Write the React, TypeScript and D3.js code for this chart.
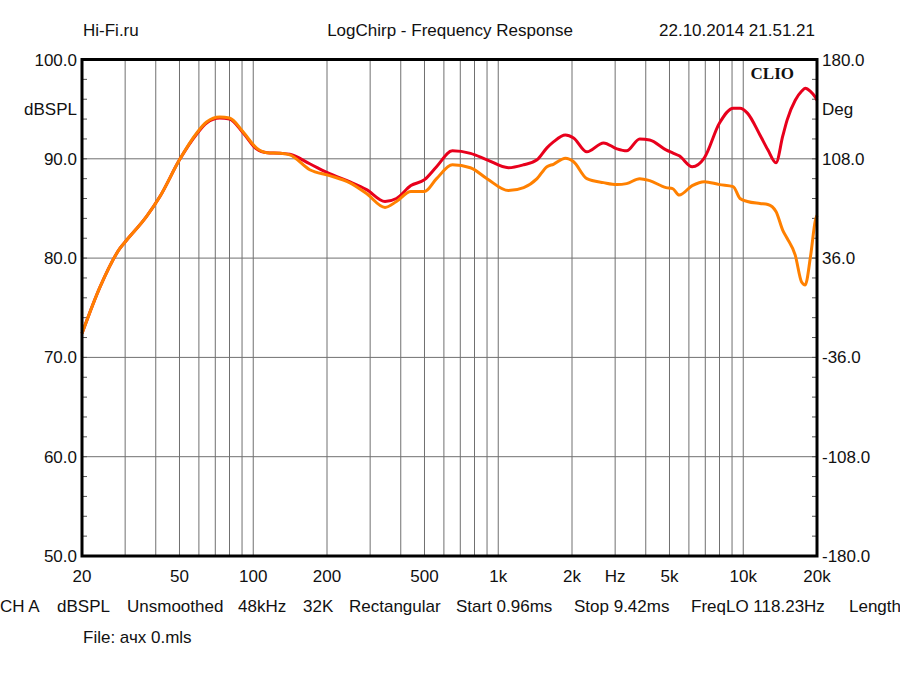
import React from 'react';
import * as d3 from 'd3';

// sampled frequency points (Hz), shared by both traces
const freqs = [
  20, 23.7, 28.6, 30.4, 36.7, 41.6, 50, 58.8, 64.5, 73, 80, 91, 103, 114, 129, 141,
  170, 205, 247, 290, 345, 384, 440, 500, 560, 650, 770, 900, 1100, 1270, 1440, 1580,
  1680, 1880, 2030, 2300, 2690, 3050, 3340, 3780, 4150, 4840, 5150, 5480, 6190, 6940,
  8000, 9100, 9700, 10400, 11700, 12600, 13600, 14500, 15100, 16300, 17300, 17900,
  18800, 19700, 20000,
];

const splRed = [
  72.4, 77.1, 81.0, 81.8, 84.2, 86.2, 89.9, 92.5, 93.6, 94.1, 94.0, 92.6, 91.0, 90.6, 90.55, 90.45,
  89.5, 88.5, 87.7, 86.9, 85.7, 86.0, 87.3, 87.9, 89.2, 90.8, 90.55, 89.9, 89.1, 89.4, 89.9, 91.1,
  91.7, 92.4, 92.1, 90.7, 91.6, 91.0, 90.8, 92.0, 91.9, 90.9, 90.6, 90.3, 89.2, 90.1,
  93.6, 95.1, 95.1, 94.6, 92.4, 90.9, 89.6, 92.3, 93.9, 95.9, 96.8, 97.1,
  96.8, 96.2, 95.9,
];

const splOrange = [
  72.4, 77.1, 81.0, 81.8, 84.2, 86.2, 89.9, 92.6, 93.7, 94.2, 94.1, 92.7, 91.1, 90.6, 90.55, 90.4,
  88.9, 88.3, 87.6, 86.5, 85.1, 85.7, 86.7, 86.7, 88.0, 89.4, 89.1, 88.0, 86.8, 87.1, 88.0, 89.2,
  89.45, 90.05, 89.7, 88.0, 87.6, 87.4, 87.5, 88.0, 87.8, 87.1, 87.0, 86.35, 87.3, 87.7,
  87.4, 87.2, 86.0, 85.7, 85.5, 85.4, 84.7, 82.8, 82.0, 80.3, 77.6, 77.3,
  80.1, 83.8, 84.3,
];

const xTickValues = [20, 50, 100, 200, 500, 1000, 2000, 3000, 5000, 10000, 20000];
const xTickLabels = ['20', '50', '100', '200', '500', '1k', '2k', 'Hz', '5k', '10k', '20k'];
const yTicksLeft = ['100.0', '90.0', '80.0', '70.0', '60.0', '50.0'];
const yTicksRight = ['180.0', '108.0', '36.0', '-36.0', '-108.0', '-180.0'];
const footerItems = [
  'CH A', 'dBSPL', 'Unsmoothed', '48kHz', '32K', 'Rectangular',
  'Start 0.96ms', 'Stop 9.42ms', 'FreqLO 118.23Hz', 'Length',
];
const footerX = [0, 57, 127, 238, 303, 349, 456, 574, 691, 849];

const W = 900;
const H = 675;
const left = 82;
const right = 817;
const top = 59.5;
const bottom = 556;
const font = 'Arial, "Liberation Sans", sans-serif';

export default function App() {
  const x = d3.scaleLog().domain([20, 20000]).range([left, right]);
  const y = d3.scaleLinear().domain([50, 100]).range([bottom, top]);

  // vertical grid: every 1..9 multiple of each decade
  const grid: number[] = [];
  [10, 100, 1000, 10000].forEach(d => {
    for (let k = 1; k < 10; k++) {
      const f = d * k;
      if (f > 20 && f < 20000) grid.push(f);
    }
  });

  const minor = d3.range(50, 100.01, 2);

  const line = d3.line<number>()
    .x((_, i) => x(freqs[i]))
    .y(d => y(d))
    .curve(d3.curveMonotoneX);

  return (
    <svg width={W} height={H} style={{ position: 'absolute', left: 0, top: 0, background: '#fff' }}
      fontFamily={font} fontSize={17}>
      <rect x={0} y={0} width={W} height={H} fill="#fff" />

      {/* header */}
      <text x={83} y={36} fill="#111">Hi-Fi.ru</text>
      <text x={450} y={36} textAnchor="middle" fill="#111">LogChirp - Frequency Response</text>
      <text x={815} y={36} textAnchor="end" fill="#111">22.10.2014 21.51.21</text>

      {/* grid */}
      {grid.map(f => (
        <line key={f} x1={x(f)} x2={x(f)} y1={top} y2={bottom} stroke="#707070" strokeWidth={1} />
      ))}
      {[60, 70, 80, 90].map(v => (
        <line key={v} x1={left} x2={right} y1={y(v)} y2={y(v)} stroke="#707070" strokeWidth={1} />
      ))}

      {/* minor ticks */}
      {minor.map(v => (
        <g key={v}>
          <line x1={left} x2={left + 5} y1={y(v)} y2={y(v)} stroke="#555" strokeWidth={1} />
          <line x1={right - 5} x2={right} y1={y(v)} y2={y(v)} stroke="#555" strokeWidth={1} />
        </g>
      ))}

      {/* traces */}
      <path d={line(splRed) || ''} fill="none" stroke="#e8001c" strokeWidth={3} strokeLinejoin="round" />
      <path d={line(splOrange) || ''} fill="none" stroke="#ff8000" strokeWidth={3} strokeLinejoin="round" />

      {/* frame */}
      <rect x={left} y={top} width={right - left} height={bottom - top} fill="none" stroke="#000" strokeWidth={3} />

      <text x={794} y={79} textAnchor="end" fontFamily='"Liberation Serif", "Times New Roman", serif'
        fontWeight="bold" fontSize={17} fill="#111">CLIO</text>

      {/* left axis */}
      {yTicksLeft.map((t, i) => (
        <text key={t} x={77} y={y(100 - i * 10) + 6} textAnchor="end" fill="#111">{t}</text>
      ))}
      <text x={77} y={y(95) + 6} textAnchor="end" fill="#111">dBSPL</text>

      {/* right axis */}
      {yTicksRight.map((t, i) => (
        <text key={t} x={822} y={y(100 - i * 10) + 6} fill="#111">{t}</text>
      ))}
      <text x={822} y={y(95) + 6} fill="#111">Deg</text>

      {/* x axis */}
      {xTickValues.map((f, i) => (
        <text key={f} x={x(f)} y={582} textAnchor="middle" fill="#111">{xTickLabels[i]}</text>
      ))}

      {/* footer */}
      {footerItems.map((t, i) => (
        <text key={t} x={footerX[i]} y={612} fill="#111">{t}</text>
      ))}
      <text x={83} y={643} fill="#111">File: ачх 0.mls</text>
    </svg>
  );
}
